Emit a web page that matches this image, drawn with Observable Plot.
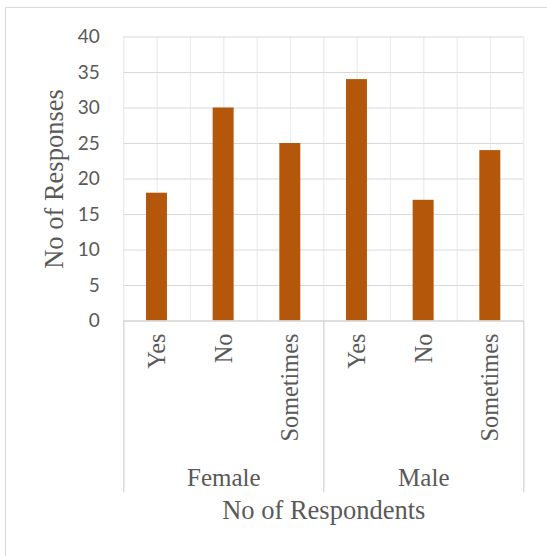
<!DOCTYPE html>
<html>
<head>
<meta charset="utf-8">
<script src="https://cdn.jsdelivr.net/npm/d3@7"></script>
<script src="https://cdn.jsdelivr.net/npm/@observablehq/plot@0.6"></script>
<style>
  html, body { margin: 0; padding: 0; background: #fff; }
  #chart { position: relative; width: 547px; height: 556px; }
  #frame { position: absolute; left: 5px; top: 7px; right: 0; bottom: 0; border-left: 1.5px solid #d9d9d9; border-top: 1.5px solid #d9d9d9; pointer-events: none; }
</style>
</head>
<body>
<div id="chart"><div id="frame"></div></div>
<script>
const groups = ["Female", "Male"];
const answers = ["Yes", "No", "Sometimes"];
const femaleValues = [18, 30, 25];
const maleValues = [34, 17, 24];
const yTicks = [0, 5, 10, 15, 20, 25, 30, 35, 40];
const yTitle = "No of Responses";
const xTitle = "No of Respondents";

const seriesByGroup = [femaleValues, maleValues];
const rows = [];
groups.forEach((g, gi) => answers.forEach((a, ai) => {
  rows.push({group: g, answer: a, value: seriesByGroup[gi][ai], i: gi * answers.length + ai});
}));
const n = rows.length;
const groupRows = groups.map((g, gi) => ({group: g, mid: gi * answers.length + answers.length / 2}));
const groupEdges = d3.range(0, n + 1, answers.length);
const halfSteps = d3.range(0, n + 0.01, 0.5);

const serif = "'Liberation Serif', 'Times New Roman', serif";
const sans = "Lato, 'Liberation Sans', sans-serif";
const gray = "#595959";

const chart = Plot.plot({
  width: 547,
  height: 556,
  marginLeft: 123.3,
  marginRight: 23.7,
  marginTop: 36.5,
  marginBottom: 235.5,
  style: {background: "transparent", overflow: "visible"},
  x: {type: "linear", domain: [0, n], axis: null},
  y: {domain: [0, 40], axis: null},
  marks: [
    Plot.ruleX(halfSteps, {x: d => d, stroke: "#ececec", strokeWidth: 1.2}),
    Plot.ruleY(yTicks.filter(d => d > 0), {y: d => d, stroke: "#d9d9d9", strokeWidth: 1.2}),
    Plot.rectY(rows, {x1: d => d.i, x2: d => d.i + 1, y: "value", fill: "#B5570A", insetLeft: 22.7, insetRight: 23}),
    Plot.ruleY([0], {stroke: "#d4d4d4", strokeWidth: 1.3}),
    Plot.ruleX(groupEdges, {x: d => d, y1: 0, y2: 0, insetBottom: -172, stroke: "#d4d4d4", strokeWidth: 1.3}),
    Plot.text(yTicks, {x: 0, y: d => d, text: d => String(d), textAnchor: "end", dx: -24, fontFamily: sans, fontSize: 19, fill: gray}),
    Plot.text(rows, {x: d => d.i + 0.5, y: 0, text: "answer", rotate: -90, textAnchor: "end", lineAnchor: "middle", dy: 12.5, fontFamily: serif, fontSize: 24.3, fill: gray}),
    Plot.text(groupRows, {x: "mid", y: 0, text: "group", lineAnchor: "bottom", dy: 164.5, fontFamily: serif, fontSize: 25, fill: gray}),
    Plot.text([xTitle], {frameAnchor: "bottom", text: d => d, textAnchor: "middle", lineAnchor: "bottom", dy: 197.5, fontFamily: serif, fontSize: 26.5, fill: gray}),
    Plot.text([yTitle], {frameAnchor: "left", text: d => d, rotate: -90, textAnchor: "middle", lineAnchor: "middle", dx: -69.3, fontFamily: serif, fontSize: 26.5, fill: gray})
  ]
});
chart.style.position = "absolute";
chart.style.left = "0";
chart.style.top = "0";
document.getElementById("chart").appendChild(chart);
</script>
</body>
</html>
